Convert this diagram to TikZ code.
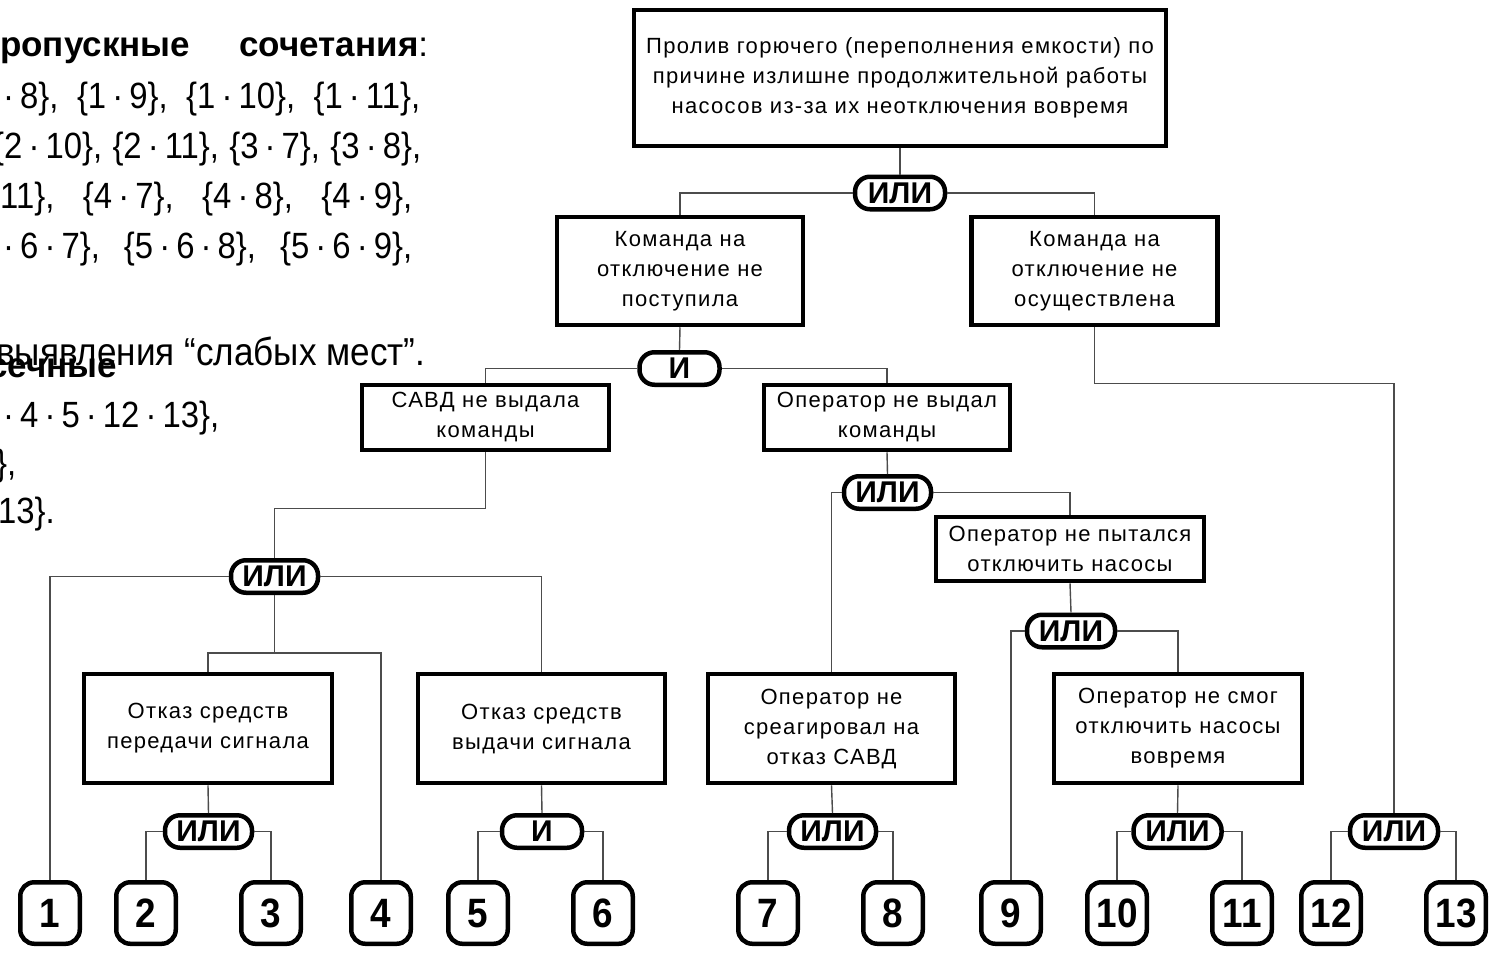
\documentclass[tikz,border=0pt]{standalone}
\usepackage{fontspec}
\setmainfont{Liberation Sans}
\newfontfamily\narrowfont[FakeStretch=0.9]{Liberation Sans}
\newfontfamily\spacedfont[LetterSpace=6]{Liberation Sans}
\usetikzlibrary{calc}

\tikzset{
  box/.style={draw, line width=4.5pt, inner sep=0pt, align=center,
    font=\spacedfont\fontsize{22}{30}\selectfont},
  gate/.style={draw, line width=4.5pt, rounded corners=15pt, inner sep=0pt,
    minimum height=32.5pt, font=\bfseries\fontsize{30}{30}\selectfont},
  leaf/.style={draw, line width=4.5pt, rounded corners=14pt, inner sep=0pt,
    minimum width=59.5pt, minimum height=61.5pt, text height=29pt, text depth=0pt,
    font=\narrowfont\bfseries\fontsize{41}{41}\selectfont},
  wire/.style={line width=1.4pt, black!70},
  lt/.style={anchor=base west, inner sep=0pt, font=\narrowfont\fontsize{36.5}{36.5}\selectfont},
  lb/.style={anchor=base west, inner sep=0pt, font=\bfseries\fontsize{35}{35}\selectfont}
}

\begin{document}
\begin{tikzpicture}[x=1pt, y=-1pt]

    \fill[white] (0,0) rectangle (1490,953);
    \useasboundingbox (0,0) rectangle (1490,953);

    % text of the slide, cut at the left edge
    \node[lb] (t1) at (0,56) {\makebox[428pt][s]{ропускные сочетания{\mdseries:}}};
    \node[lt] (t2) at (3,108) {\makebox[417pt][s]{·\,8\}, \{1\,·\,9\}, \{1\,·\,10\}, \{1\,·\,11\},}};
    \node[lt] (t3) at (-7,158) {\makebox[428pt][s]{\{2\,·\,10\}, \{2\,·\,11\}, \{3\,·\,7\}, \{3\,·\,8\},}};
    \node[lt] (t4) at (0,208) {\makebox[412pt][s]{11\}, \{4\,·\,7\}, \{4\,·\,8\}, \{4\,·\,9\},}};
    \node[lt] (t5) at (3,258) {\makebox[409pt][s]{·\,6\,·\,7\}, \{5\,·\,6\,·\,8\}, \{5\,·\,6\,·\,9\},}};

    \node[lt, font=\narrowfont\fontsize{39}{39}\selectfont] (t6) at (-4,365) {выявления “слабых мест”.};
    \node[lb] (t7) at (-12,377) {сечные};
    \node[lt] (t8) at (3,427) {·\,4\,·\,5\,·\,12\,·\,13\},};
    \node[lt] (t9) at (-4,475) {\},};
    \node[lt] (t10) at (-2,523) {13\}.};

    % events
    \node[box, minimum width=532pt, minimum height=136pt] (top) at (900,78)
        {Пролив горючего (переполнения емкости) по\\причине излишне продолжительной работы\\насосов из-за их неотключения вовремя};
    \node[box, minimum width=246pt, minimum height=108pt] (kp) at (680,271)
        {Команда на\\отключение не\\поступила};
    \node[box, minimum width=246pt, minimum height=108pt] (ko) at (1094.5,271)
        {Команда на\\отключение не\\осуществлена};
    \node[box, minimum width=247pt, minimum height=65pt] (savd) at (485.5,417.5)
        {САВД не выдала\\команды};
    \node[box, minimum width=246pt, minimum height=65pt] (onv) at (887,417.5)
        {Оператор не выдал\\команды};
    \node[box, minimum width=268pt, minimum height=64pt] (onp) at (1070,549)
        {Оператор не пытался\\отключить насосы};
    \node[box, minimum width=248pt, minimum height=109pt] (osp) at (208,728.5)
        {Отказ средств\\передачи сигнала};
    \node[box, minimum width=247pt, minimum height=109pt] (osv) at (541.5,728.5)
        {Отказ средств\\выдачи сигнала};
    \node[box, minimum width=247pt, minimum height=109pt] (onr) at (831.5,728.5)
        {Оператор не\\среагировал на\\отказ САВД};
    \node[box, minimum width=248pt, minimum height=109pt] (ons) at (1178,728.5)
        {Оператор не смог\\отключить насосы\\вовремя};

    % gates
    \node[gate, minimum width=90pt] (g1) at (900,193) {ИЛИ};
    \node[gate, minimum width=80pt] (g2) at (679.5,368.5) {И};
    \node[gate, minimum width=87pt] (g3) at (887.5,492.5) {ИЛИ};
    \node[gate, minimum width=87pt] (g4) at (274.5,576.5) {ИЛИ};
    \node[gate, minimum width=87pt] (g5) at (208.5,831.5) {ИЛИ};
    \node[gate, minimum width=88pt] (g6) at (1071,631) {ИЛИ};
    \node[gate, minimum width=80pt] (g7) at (542,831.5) {И};
    \node[gate, minimum width=87pt] (g8) at (832.5,831.5) {ИЛИ};
    \node[gate, minimum width=88pt] (g9) at (1177.5,831.5) {ИЛИ};
    \node[gate, minimum width=88pt] (g10) at (1394,831.5) {ИЛИ};

    % basic events
    \foreach \n/\x in {1/50, 2/146, 3/271, 4/381, 5/478, 6/603, 7/768,
                       8/893, 9/1011, 10/1117, 11/1242, 12/1331, 13/1456}
        \node[leaf] (l\n) at (\x,913) {\n};

    % connectors
    \draw[wire] (top.south) -- (g1.north);
    \draw[wire] (g1.west) -| (kp.north);
    \draw[wire] (g1.east) -| (ko.north);

    \draw[wire] (kp.south) -- (g2.north);
    \draw[wire] (g2.west) -| (savd.north);
    \draw[wire] (g2.east) -| (onv.north);

    \draw[wire] (savd.south) -- ++(0,56) -| (g4.north);
    \draw[wire] (g4.west) -| (l1.north);
    \draw[wire] (g4.east) -| (osv.north);
    \draw[wire] (g4.south) -- ++(0,58) coordinate (j1) -| (osp.north);
    \draw[wire] (j1) -| (l4.north);

    \draw[wire] (osp.south) -- (g5.north);
    \draw[wire] (g5.west) -| (l2.north);
    \draw[wire] (g5.east) -| (l3.north);

    \draw[wire] (osv.south) -- (g7.north);
    \draw[wire] (g7.west) -| (l5.north);
    \draw[wire] (g7.east) -| (l6.north);

    \draw[wire] (onv.south) -- (g3.north);
    \draw[wire] (g3.west) -| (onr.north);
    \draw[wire] (g3.east) -| (onp.north);

    \draw[wire] (onp.south) -- (g6.north);
    \draw[wire] (g6.west) -| (l9.north);
    \draw[wire] (g6.east) -| (ons.north);

    \draw[wire] (onr.south) -- (g8.north);
    \draw[wire] (g8.west) -| (l7.north);
    \draw[wire] (g8.east) -| (l8.north);

    \draw[wire] (ons.south) -- (g9.north);
    \draw[wire] (g9.west) -| (l10.north);
    \draw[wire] (g9.east) -| (l11.north);

    \draw[wire] (ko.south) -- ++(0,56) -| (g10.north);
    \draw[wire] (g10.west) -| (l12.north);
    \draw[wire] (g10.east) -| (l13.north);

\end{tikzpicture}
\end{document}
